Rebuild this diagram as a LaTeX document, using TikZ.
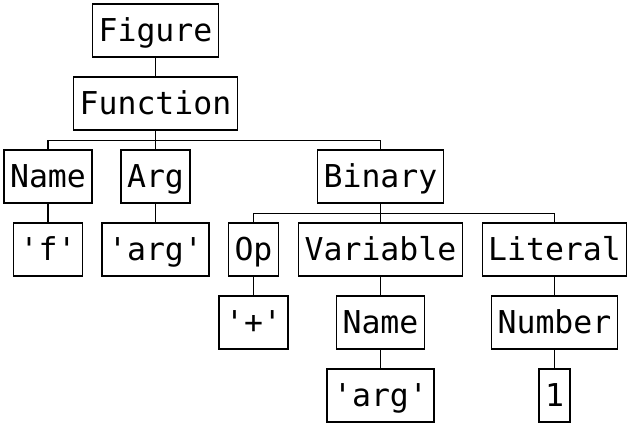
\documentclass[tikz,border=0pt]{standalone}
\usepackage{fontspec}
\newfontfamily\treemono{DejaVu Sans Mono}
\newcommand{\sq}{\char39\relax}
\begin{document}
\begin{tikzpicture}[x=1pt,y=-1pt,
  tbox/.style={draw, line width=1.2pt, inner xsep=6pt, inner ysep=0pt,
    minimum height=53pt, text height=22.9pt, text depth=0pt,
    font=\treemono\fontsize{31.5}{36}\selectfont},
  tlink/.style={line width=1.2pt}]
\useasboundingbox (0,0) rectangle (633,428);
\node[tbox] (figure) at (155.5,30.5) {Figure};
\node[tbox] (function) at (155.5,103.5) {Function};
\node[tbox] (name1) at (48,176.5) {Name};
\node[tbox] (arg) at (155.5,176.5) {Arg};
\node[tbox] (binary) at (380.5,176.5) {Binary};
\node[tbox] (f) at (48,249.5) {\sq f\sq};
\node[tbox] (argstr1) at (155.5,249.5) {\sq arg\sq};
\node[tbox] (op) at (253.5,249.5) {Op};
\node[tbox] (variable) at (380.5,249.5) {Variable};
\node[tbox] (literal) at (554.5,249.5) {Literal};
\node[tbox] (plus) at (253.5,322.5) {\sq+\sq};
\node[tbox] (name2) at (380.5,322.5) {Name};
\node[tbox] (number) at (554.5,322.5) {Number};
\node[tbox] (argstr2) at (380.5,395.5) {\sq arg\sq};
\node[tbox] (one) at (554.5,395.5) {1};
\foreach \p/\c in {figure/function, function/name1, function/arg, function/binary,
  name1/f, arg/argstr1, binary/op, binary/variable, binary/literal,
  op/plus, variable/name2, literal/number, name2/argstr2, number/one}
  \draw[tlink] (\p.south) -- ++(0,10) -| (\c.north);
\end{tikzpicture}
\end{document}
